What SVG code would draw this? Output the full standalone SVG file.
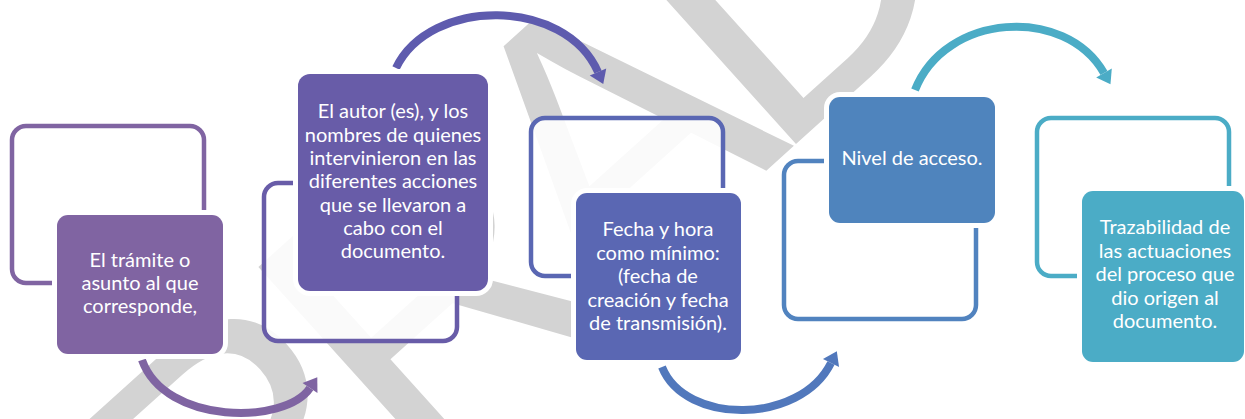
<svg xmlns="http://www.w3.org/2000/svg" width="1245" height="419" viewBox="0 0 1245 419">
<style>
.wm{font-family:"Liberation Sans",Arial,sans-serif;font-size:390px;letter-spacing:-30px;fill:#d3d3d3}
.frame{fill:#ffffff;fill-opacity:0.88;stroke-width:4.5}
.box{stroke:#ffffff;stroke-width:10;paint-order:stroke}
.lbl{font-family:Lato,"Open Sans",sans-serif;font-size:20px;fill:#ffffff;text-anchor:middle}
.arc{fill:none;stroke-width:8}
</style>
<defs>
<marker id="h1" markerUnits="userSpaceOnUse" markerWidth="20" markerHeight="24" refX="0" refY="10" orient="auto" viewBox="0 -2 14 24"><path d="M0,1 L13,10 L0,19 z" fill="#7F64A2"/></marker>
<marker id="h2" markerUnits="userSpaceOnUse" markerWidth="20" markerHeight="24" refX="0" refY="10" orient="auto" viewBox="0 -2 14 24"><path d="M0,1 L13,10 L0,19 z" fill="#5E5BAE"/></marker>
<marker id="h3" markerUnits="userSpaceOnUse" markerWidth="20" markerHeight="24" refX="0" refY="10" orient="auto" viewBox="0 -2 14 24"><path d="M0,1 L13,10 L0,19 z" fill="#5178BC"/></marker>
<marker id="h4" markerUnits="userSpaceOnUse" markerWidth="20" markerHeight="24" refX="0" refY="10" orient="auto" viewBox="0 -2 14 24"><path d="M0,1 L13,10 L0,19 z" fill="#4BACC6"/></marker>
</defs>
<rect width="1245" height="419" fill="#ffffff"/>
<text class="wm" transform="translate(-147,993) rotate(-42)">BORRADOR</text>
<g id="connectors">
<path class="arc" stroke="#7F64A2" d="M142,360 C165,425 285,425 310,388" marker-end="url(#h1)"/>
<path class="arc" stroke="#5E5BAE" d="M396,68 C430,-3 565,-3 598,72" marker-end="url(#h2)"/>
<path class="arc" stroke="#5178BC" d="M662,367 C685,425 800,425 831,363" marker-end="url(#h3)"/>
<path class="arc" stroke="#4BACC6" d="M915,90 C945,13 1065,5 1104,73" marker-end="url(#h4)"/>
</g>
<g id="node1">
<rect class="frame" stroke="#8064A2" x="12" y="126" width="192" height="157" rx="14"/>
<rect class="box" fill="#8064A2" x="57" y="215" width="166" height="139" rx="11"/>
<text class="lbl"><tspan x="140" y="267">El trámite o</tspan><tspan x="140" y="290">asunto al que</tspan><tspan x="140" y="313">corresponde,</tspan></text>
</g>
<g id="node2">
<rect class="frame" stroke="#685CA8" x="264" y="183" width="193" height="158" rx="14"/>
<rect class="box" fill="#685CA8" x="298" y="74" width="190" height="217" rx="12"/>
<text class="lbl"><tspan x="393" y="118">El autor (es), y los</tspan><tspan x="393" y="141.5">nombres de quienes</tspan><tspan x="393" y="165">intervinieron en las</tspan><tspan x="393" y="188">diferentes acciones</tspan><tspan x="393" y="211.5">que se llevaron a</tspan><tspan x="393" y="235">cabo con el</tspan><tspan x="393" y="258">documento.</tspan></text>
</g>
<g id="node3">
<rect class="frame" stroke="#5A67B3" x="531" y="118" width="192" height="158" rx="14"/>
<rect class="box" fill="#5A67B3" x="576" y="193" width="165" height="167" rx="11"/>
<text class="lbl"><tspan x="658" y="236">Fecha y hora</tspan><tspan x="658" y="259.5">como mínimo:</tspan><tspan x="658" y="283">(fecha de</tspan><tspan x="658" y="306.5">creación y fecha</tspan><tspan x="658" y="330">de transmisión).</tspan></text>
</g>
<g id="node4">
<rect class="frame" stroke="#5183BF" x="784" y="161" width="192" height="158" rx="14"/>
<rect class="box" fill="#4F84BD" x="829" y="97" width="166" height="126" rx="11"/>
<text class="lbl"><tspan x="912" y="165">Nivel de acceso.</tspan></text>
</g>
<g id="node5">
<rect class="frame" stroke="#4BACC6" x="1037" y="118" width="192" height="158" rx="14"/>
<rect class="box" fill="#4BACC6" x="1082" y="191" width="162" height="171" rx="11"/>
<text class="lbl"><tspan x="1165" y="234">Trazabilidad de</tspan><tspan x="1165" y="257.5">las actuaciones</tspan><tspan x="1165" y="281">del proceso que</tspan><tspan x="1165" y="304.5">dio origen al</tspan><tspan x="1165" y="328">documento.</tspan></text>
</g>
</svg>
